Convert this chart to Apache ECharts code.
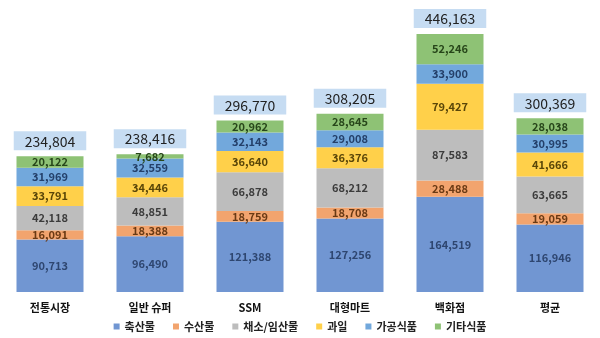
<!DOCTYPE html>
<html><head><meta charset="utf-8">
<script src="https://cdn.jsdelivr.net/npm/echarts@6/dist/echarts.min.js"></script>
<style>html,body{margin:0;padding:0;background:#fff}#c{width:600px;height:338px}</style>
</head><body><div id="c"></div>
<script>
const categories = ['전통시장', '일반 슈퍼', 'SSM', '대형마트', '백화점', '평균'];
const seriesNames = ['축산물', '수산물', '채소/임산물', '과일', '가공식품', '기타식품'];
const livestock = [90713, 96490, 121388, 127256, 164519, 116946];
const seafood = [16091, 18388, 18759, 18708, 28488, 19059];
const vegetables = [42118, 48851, 66878, 68212, 87583, 63665];
const fruit = [33791, 34446, 36640, 36376, 79427, 41666];
const processed = [31969, 32559, 32143, 29008, 33900, 30995];
const other = [20122, 7682, 20962, 28645, 52246, 28038];
const totals = [234804, 238416, 296770, 308205, 446163, 300369];

const colors = ['#7196d2', '#f2a46e', '#bdbdbd', '#ffd04a', '#72a8dc', '#8ec275'];
const labelColors = ['#2e4670', '#6a3a14', '#3c3c3c', '#5a4608', '#24406a', '#27461a'];
const values = [livestock, seafood, vegetables, fruit, processed, other];
const fmt = v => v.toLocaleString('en-US');
const font = '"Noto Sans CJK KR", "Noto Sans", sans-serif';

const series = values.map((d, i) => ({
  name: seriesNames[i], type: 'bar', stack: 'total', data: d, barWidth: 67,
  itemStyle: { color: colors[i] },
  label: { show: true, position: 'inside', color: labelColors[i], fontSize: 11, fontWeight: 'bold', fontFamily: font, formatter: p => fmt(p.value) }
}));
series.push({
  name: '합계', type: 'bar', stack: 'total', data: totals.map(() => 0), barWidth: 67,
  itemStyle: { color: 'transparent' },
  label: { show: true, position: 'top', distance: 6, color: '#222', fontSize: 14, fontFamily: font,
    backgroundColor: '#c6dcf2', padding: [3, 11, 2, 11], formatter: p => fmt(totals[p.dataIndex]) }
});

const chart = echarts.init(document.getElementById('c'));
chart.setOption({
  animation: false,
  grid: { left: -2, width: 607, top: 0, bottom: 46 },
  xAxis: { type: 'category', data: categories, axisLine: { show: false }, axisTick: { show: false },
    axisLabel: { color: '#111', fontSize: 11, fontWeight: 'bold', fontFamily: font, margin: 10 } },
  yAxis: { type: 'value', min: 0, max: 505000, show: false, splitLine: { show: false } },
  legend: { data: seriesNames, bottom: 1, left: 'center', itemWidth: 6, itemHeight: 6, itemGap: 18, icon: 'rect',
    textStyle: { color: '#222', fontSize: 11, fontWeight: 'bold', fontFamily: font } },
  series: series
});
</script></body></html>
